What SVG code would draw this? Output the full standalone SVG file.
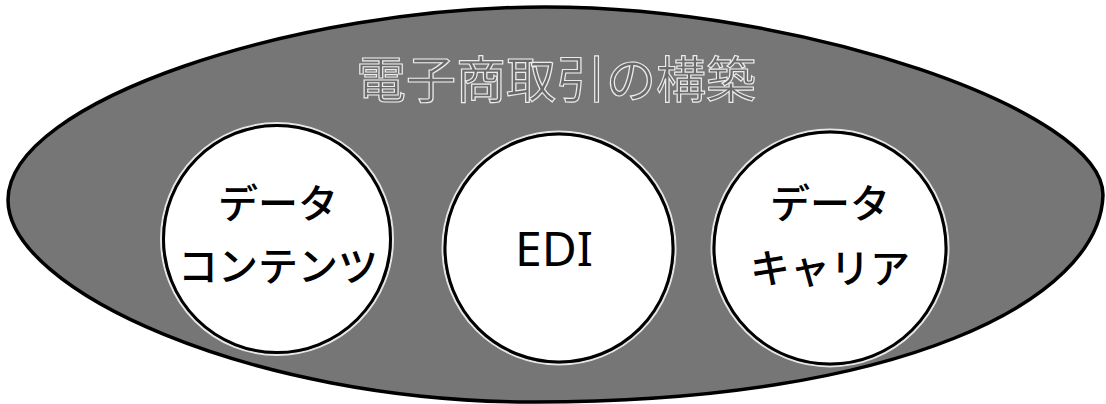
<svg xmlns="http://www.w3.org/2000/svg" width="1106" height="404" viewBox="0 0 1106 404">
  <style>
    .node { fill: #ffffff; stroke: #000000; stroke-width: 3; }
    .halo { fill: none; stroke: #e6e6e6; stroke-width: 2; }
    .label { font-family: "Noto Sans CJK JP", "Noto Sans", sans-serif; font-size: 40px; font-weight: 500; fill: #000000; text-anchor: middle; }
    .title { font-family: "Noto Sans CJK JP", sans-serif; font-size: 50px; text-anchor: middle; fill: #6a6a6a; stroke: #ececec; stroke-width: 1.2px; }
  </style>
  <rect x="0" y="0" width="1106" height="404" fill="#ffffff"/>
  <g id="outer">
    <path d="M 8 200 C 8 100, 300 7, 545 7 C 800 7, 1103 110, 1103 195 C 1100 300, 900 403, 530 402 C 250 401, 8 290, 8 200 Z" fill="#767676" stroke="#000000" stroke-width="3.5"/>
    <text class="title" x="556" y="98">電子商取引の構築</text>
  </g>
  <g id="node-content">
    <circle class="halo" cx="277" cy="239" r="116"/>
    <circle class="node" cx="277" cy="239" r="113.5"/>
    <text class="label" x="278" y="218">データ</text>
    <text class="label" x="278" y="281">コンテンツ</text>
  </g>
  <g id="node-edi">
    <circle class="halo" cx="559" cy="248" r="116.5"/>
    <circle class="node" cx="559" cy="248" r="114"/>
    <text class="label" x="554" y="266" style="font-family: 'Noto Sans', sans-serif; font-size: 48px; font-weight: 400;">EDI</text>
  </g>
  <g id="node-carrier">
    <circle class="halo" cx="830" cy="248" r="118.5"/>
    <circle class="node" cx="830" cy="248" r="116"/>
    <text class="label" x="830" y="218">データ</text>
    <text class="label" x="830" y="283">キャリア</text>
  </g>
  <g id="connectors"></g>
</svg>
